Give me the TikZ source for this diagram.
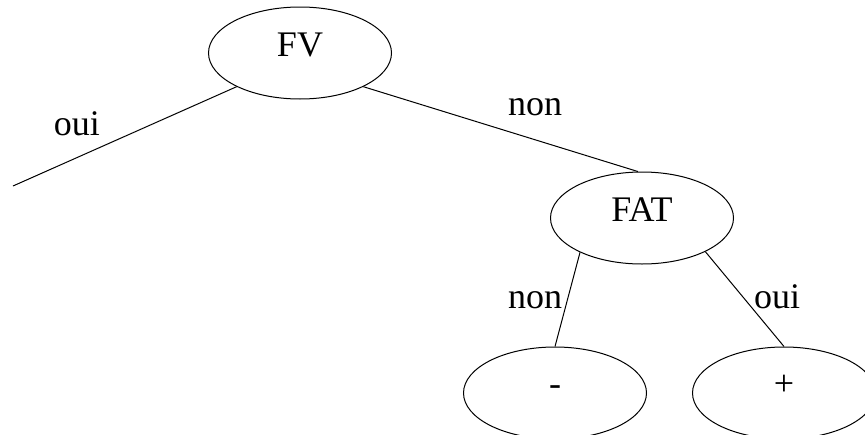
\documentclass[tikz,border=0pt]{standalone}
\usepackage{fontspec}
\setmainfont{Liberation Serif}
\usetikzlibrary{shapes.geometric}
\begin{document}
\begin{tikzpicture}[x=1pt,y=-1pt,
  leaf/.style={draw, ellipse, minimum width=183pt, minimum height=92pt, inner sep=0pt, line width=1pt, font=\fontsize{36}{40}\selectfont, text height=0.662em, text depth=0pt},
  lbl/.style={anchor=base, inner sep=0pt, font=\fontsize{36}{40}\selectfont},
  link/.style={line width=1pt}]
\useasboundingbox (0,0) rectangle (865,434);
\node[leaf] (FV) at (300,53) {FV};
\node[leaf] (FAT) at (642,218) {FAT};
\node[leaf, text height=0.44em] (minus) at (555,393) {-};
\node[leaf, text height=0.5em] (plus) at (784,393) {+};
\coordinate (end) at (13,186);
\draw[link] (FV.208) -- (end);
\draw[link] (FV.-28) -- (FAT.95);
\draw[link] (FAT.209) -- (minus.north);
\draw[link] (FAT.-28) -- (plus.north);
\node[lbl] (l1) at (77,135) {oui};
\node[lbl] (l2) at (535,115) {non};
\node[lbl] (l3) at (535,308) {non};
\node[lbl] (l4) at (777,308) {oui};
\end{tikzpicture}
\end{document}
